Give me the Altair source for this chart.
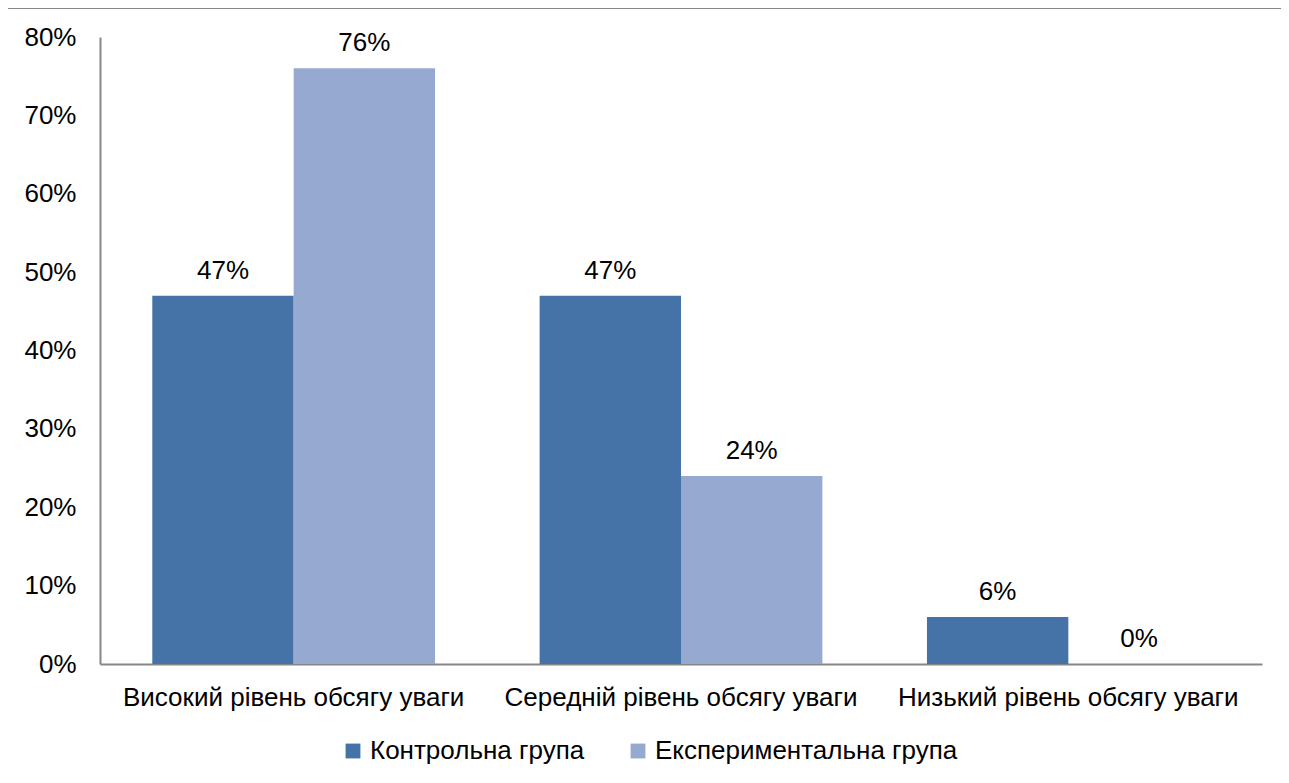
import altair as alt
import pandas as pd

categories = ["Високий рівень обсягу уваги", "Середній рівень обсягу уваги", "Низький рівень обсягу уваги"]
groups = ["Контрольна група", "Експериментальна група"]
control = [0.47, 0.47, 0.06]
experimental = [0.76, 0.24, 0.00]
colors = ["#4572A7", "#95A9D1"]

rows = []
for c, v1, v2 in zip(categories, control, experimental):
    rows.append({"cat": c, "group": groups[0], "value": v1})
    rows.append({"cat": c, "group": groups[1], "value": v2})
df = pd.DataFrame(rows)

FONT = "Liberation Sans"
FS = 26

x = alt.X("cat:N", sort=categories, title=None,
          scale=alt.Scale(paddingInner=0.27, paddingOuter=0.135),
          axis=alt.Axis(labelAngle=0, labelFontSize=FS, labelFont=FONT, labelColor="#000000",
                        labelPadding=20, labelLimit=0, ticks=False, domainColor="#868686", domainWidth=2))
xo = alt.XOffset("group:N", sort=groups, scale=alt.Scale(paddingInner=0, paddingOuter=0))
y = alt.Y("value:Q", title=None,
          scale=alt.Scale(domain=[0, 0.8]),
          axis=alt.Axis(values=[0, 0.1, 0.2, 0.3, 0.4, 0.5, 0.6, 0.7, 0.8], format=".0%",
                        labelFontSize=FS, labelFont=FONT, labelColor="#000000", labelPadding=24,
                        ticks=False, grid=False, domainColor="#868686", domainWidth=2))

base = alt.Chart(df)

bars = base.mark_bar().encode(
    x=x, xOffset=xo, y=y,
    color=alt.Color("group:N", sort=groups,
                    scale=alt.Scale(domain=groups, range=colors),
                    legend=alt.Legend(title=None, orient="none", legendX=240, legendY=701,
                                      direction="horizontal", symbolType="square", symbolSize=220,
                                      symbolStrokeWidth=0, labelLimit=0,
                                      labelFontSize=FS, labelFont=FONT, labelColor="#000000",
                                      columnPadding=40, labelOffset=4))
)

labels = base.mark_text(baseline="alphabetic", dy=-17, fontSize=FS, font=FONT, color="#000000").encode(
    x=x, xOffset=xo, y=y,
    text=alt.Text("value:Q", format=".0%")
)

frame = alt.Chart(pd.DataFrame({"a": [0]})).mark_rect(fill=None, stroke="#868686", strokeWidth=2).encode(
    x=alt.value(-93), x2=alt.value(1300), y=alt.value(-29), y2=alt.value(800)
)

chart = alt.layer(frame, bars, labels).properties(
    width=1162, height=627,
    autosize=alt.AutoSizeParams(type="none"),
    padding={"left": 92, "top": 29, "right": 19, "bottom": 111},
    background="white"
).configure_view(stroke=None)

chart.save("out.html", embed_options={"renderer": "svg", "actions": False})
